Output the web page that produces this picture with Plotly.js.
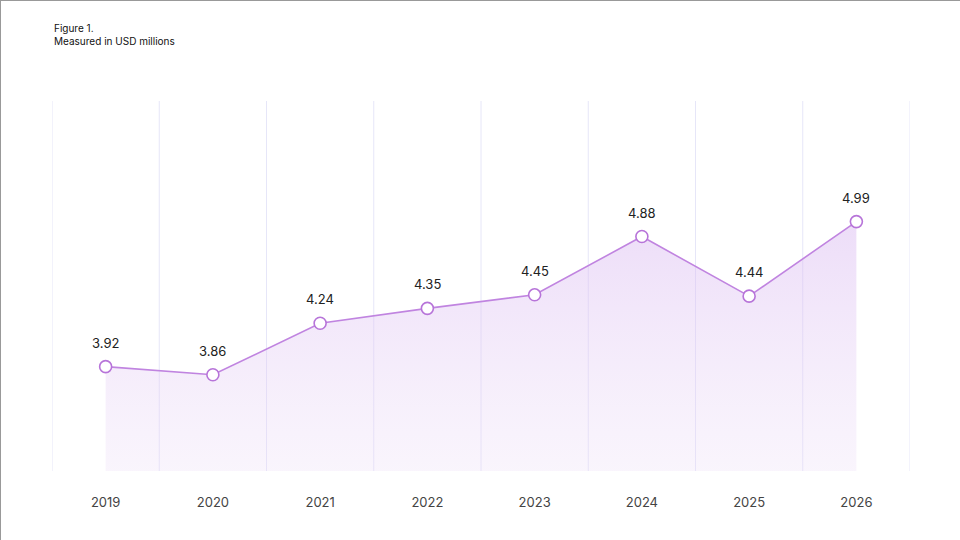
<!DOCTYPE html>
<html><head><meta charset="utf-8">
<script src="https://cdn.plot.ly/plotly-3.0.1.min.js"></script>
<style>html,body{margin:0;padding:0;background:#fff}#c{width:959px;height:539px;border-top:1px solid #999;border-left:1px solid #999}</style>
</head><body><div id="c"></div>
<script>
const years = ["2019","2020","2021","2022","2023","2024","2025","2026"];
const values = [3.92,3.86,4.24,4.35,4.45,4.88,4.44,4.99];
const labels = ["3.92","3.86","4.24","4.35","4.45","4.88","4.44","4.99"];
const idx = years.map((_, i) => i);
const shapes = [];
for (let i = 0; i <= years.length; i++) {
  shapes.push({type:'line', xref:'x', yref:'paper', x0:i-0.5, x1:i-0.5, y0:0, y1:1,
    line:{color:'#e6e6f8', width:1}, layer:'below'});
}
const annotations = idx.map(i => ({x:i, y:values[i], xref:'x', yref:'y', text:labels[i], showarrow:false,
  yanchor:'bottom', yshift:14, font:{family:'Inter, sans-serif', size:13, color:'#222'}}));
annotations.push({xref:'paper', yref:'paper', x:0, y:1, xanchor:'left', yanchor:'bottom',
    text:'Figure 1.<br>Measured in USD millions', showarrow:false, align:'left',
    font:{family:'Inter, sans-serif', size:10, color:'#111'}, yshift:52});
const traces = [
 {x:idx, y:values, type:'scatter', mode:'none', fill:'tozeroy',
  fillgradient:{type:'vertical', colorscale:[[0,'rgba(255,255,255,0)'],[0.55,'rgba(240,228,248,0.25)'],[1,'rgba(215,180,240,0.45)']]},
  hoverinfo:'skip'},
 {x:idx, y:values, type:'scatter', mode:'lines+markers',
  line:{color:'#c084e0', width:1.6},
  marker:{size:12, color:'#fff', line:{color:'#b774d9', width:1.6}}, cliponaxis:false}
];
const layout = {
  width:959, height:539, margin:{l:51, r:50, t:100, b:69},
  paper_bgcolor:'#fff', plot_bgcolor:'#fff', showlegend:false,
  xaxis:{range:[-0.5,7.5], tickvals:idx, ticktext:years, showgrid:false, zeroline:false, showline:false,
    ticks:'', ticklabelstandoff:22, tickfont:{family:'Inter, sans-serif', size:13, color:'#444'}},
  yaxis:{range:[3.15,5.88], visible:false, showgrid:false, zeroline:false},
  shapes:shapes, annotations:annotations
};
Plotly.newPlot('c', traces, layout, {displayModeBar:false, staticPlot:true});
</script></body></html>
